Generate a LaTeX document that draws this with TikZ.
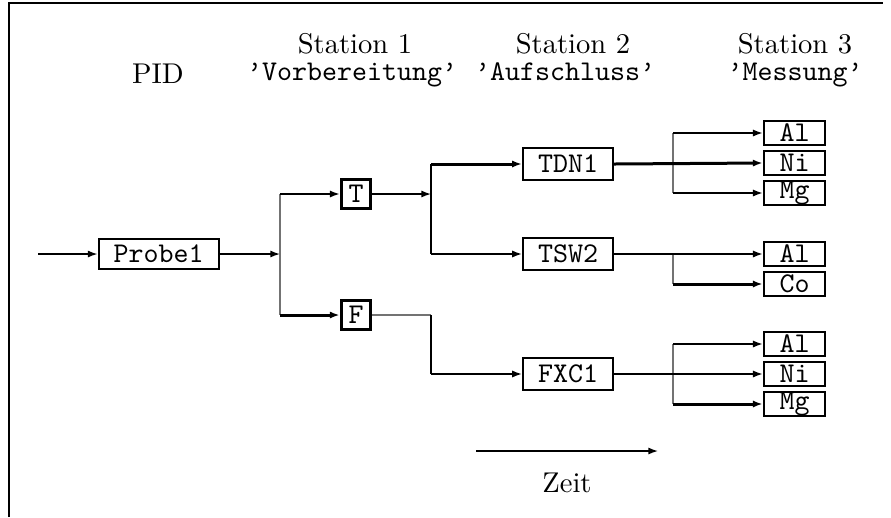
\documentclass[tikz,border=0pt]{standalone}
\usetikzlibrary{arrows.meta}
\begin{document}
\begin{tikzpicture}[x=0.35pt,y=-0.35pt,
  >={Latex[length=3.4pt,width=2.5pt]},
  conn/.style={line width=0.5pt,->},
  connthick/.style={line width=1.05pt,->},
  bare/.style={line width=0.5pt},
  faint/.style={line width=0.4pt,black!55},
  sample/.style={draw,line width=0.7pt,inner sep=0pt,font=\ttfamily},
  probebox/.style={sample,minimum width=42pt,minimum height=10.5pt},
  digestbox/.style={sample,minimum width=31.6pt,minimum height=11pt},
  prepbox/.style={sample,line width=1.1pt,minimum width=10.4pt,minimum height=10.4pt},
  elembox/.style={sample,minimum width=21.6pt,minimum height=8.4pt},
  title/.style={anchor=base,inner sep=0pt},
  ttitle/.style={anchor=base,inner sep=0pt,font=\ttfamily}]
\useasboundingbox (0,0) rectangle (891,517);

% frame edges
\draw[line width=0.9pt] (9,517) -- (9,3) -- (883,3);

% column headings
\node[title] (hpid) at (158,83) {PID};
\node[title] (hs1) at (355,53) {Station 1};
\node[ttitle] (hs1b) at (352,80) {’Vorbereitung’};
\node[title] (hs2) at (573,53) {Station 2};
\node[ttitle] (hs2b) at (565,80) {’Aufschluss’};
\node[title] (hs3) at (795,53) {Station 3};
\node[ttitle] (hs3b) at (795,80) {’Messung’};

% sample and preparation
\node[probebox] (probe) at (158.5,254) {Probe1};
\node[prepbox] (T) at (356,194) {T};
\node[prepbox] (F) at (356,315) {F};

% digestion
\node[digestbox] (tdn) at (568,164) {TDN1};
\node[digestbox] (tsw) at (568,254) {TSW2};
\node[digestbox] (fxc) at (568,374) {FXC1};

% measurement
\node[elembox] (al1) at (794.5,133) {Al};
\node[elembox] (ni1) at (794.5,163) {Ni};
\node[elembox] (mg1) at (794.5,193) {Mg};
\node[elembox] (al2) at (794.5,254) {Al};
\node[elembox] (co2) at (794.5,284) {Co};
\node[elembox] (al3) at (794.5,344) {Al};
\node[elembox] (ni3) at (794.5,374) {Ni};
\node[elembox] (mg3) at (794.5,404) {Mg};

% branching points
\coordinate (in) at (38,254);
\coordinate (jp) at (280,254);
\coordinate (jt) at (431,194);
\coordinate (jf) at (431,315);
\coordinate (j1) at (673,164);
\coordinate (j2) at (673,254);
\coordinate (j3) at (673,374);

% sample to preparation
\draw[conn] (in) -- (probe.west);
\draw[conn] (probe.east) -- (jp);
\draw[faint] (jp |- T) -- (jp |- F);
\draw[conn] (jp |- T) -- (T.west);
\draw[connthick] (jp |- F) -- (F.west);

% preparation to digestion
\draw[conn] (T.east) -- (jt);
\draw[bare] (jt |- tdn) -- (jt |- tsw);
\draw[connthick] (jt |- tdn) -- (tdn.west);
\draw[conn] (jt |- tsw) -- (tsw.west);
\draw[faint] (F.east) -- (jf);
\draw[bare] (jf) -- (jf |- fxc);
\draw[conn] (jf |- fxc) -- (fxc.west);

% digestion to measurement
\draw[faint] (j1 |- al1) -- (j1 |- mg1);
\draw[connthick] (tdn.east) -- (ni1.west);
\draw[conn] (j1 |- al1) -- (al1.west);
\draw[conn] (j1 |- mg1) -- (mg1.west);

\draw[faint] (j2) -- (j2 |- co2);
\draw[conn] (tsw.east) -- (al2.west);
\draw[connthick] (j2 |- co2) -- (co2.west);

\draw[faint] (j3 |- al3) -- (j3 |- mg3);
\draw[conn] (fxc.east) -- (ni3.west);
\draw[conn] (j3 |- al3) -- (al3.west);
\draw[connthick] (j3 |- mg3) -- (mg3.west);

% time axis
\coordinate (z0) at (476,451);
\coordinate (z1) at (658,451);
\draw[conn] (z0) -- (z1);
\node[title] (zeit) at (567,492) {Zeit};
\end{tikzpicture}
\end{document}
